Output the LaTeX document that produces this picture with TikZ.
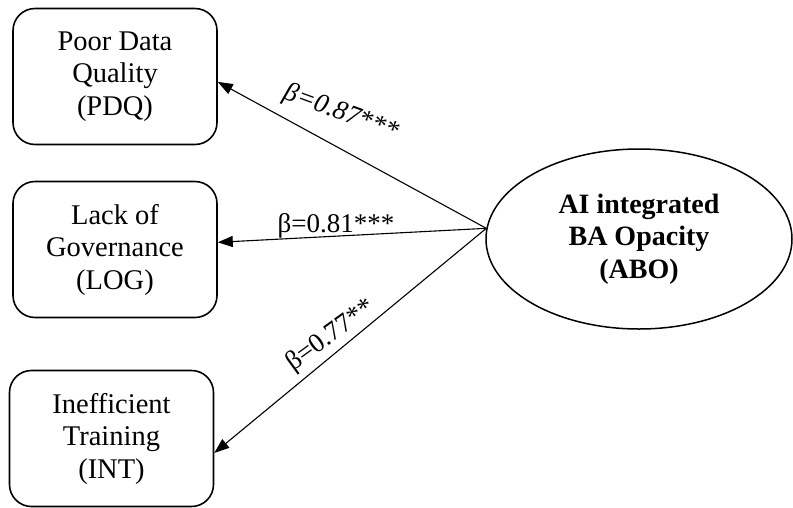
\documentclass[tikz,border=0pt]{standalone}
\usepackage{fontspec}
\setmainfont{Liberation Serif}
\usetikzlibrary{arrows.meta,shapes.geometric}
\tikzset{
  factor/.style={draw, rounded corners=22pt, line width=1.6pt, minimum width=204pt,
    minimum height=136pt, align=center, inner sep=0pt,
    font=\fontsize{28.5}{32.5}\selectfont},
  latent/.style={draw, ellipse, line width=1.5pt, minimum width=306pt,
    minimum height=180pt, align=center, inner sep=0pt,
    font=\fontsize{28}{32.5}\selectfont\bfseries},
  path/.style={line width=1.1pt, -{Triangle[length=15pt,width=11pt]}},
  coef/.style={inner sep=0pt, font=\fontsize{27}{32}\selectfont}
}
\begin{document}
\begin{tikzpicture}[x=1pt, y=-1pt]
    \useasboundingbox (0, 0) rectangle (793, 507);
    \fill[white] (0, 0) rectangle (793, 507);

    \node [factor] (pdq) at (115, 76.5) {Poor Data\\Quality\\(PDQ)};
    \node [factor] (log) at (115, 249.5) {Lack of\\Governance\\(LOG)};
    \node [factor] (int) at (111.5, 438.5) {Inefficient\\Training\\(INT)};
    \node [latent] (abo) at (639, 239) {AI integrated\\BA Opacity\\(ABO)};

    \draw [path] (abo.176) -- (pdq.-3);
    \draw [path] (abo.176) -- (log.4);
    \draw [path] (abo.176) -- (int.-8);

    \node [coef, rotate=-20] (c1) at (341, 113) {\textit{β=0.87***}};
    \node [coef] (c2) at (336, 226) {β=0.81***};
    \node [coef, rotate=36] (c3) at (331, 336) {β=0.77**};
\end{tikzpicture}
\end{document}
